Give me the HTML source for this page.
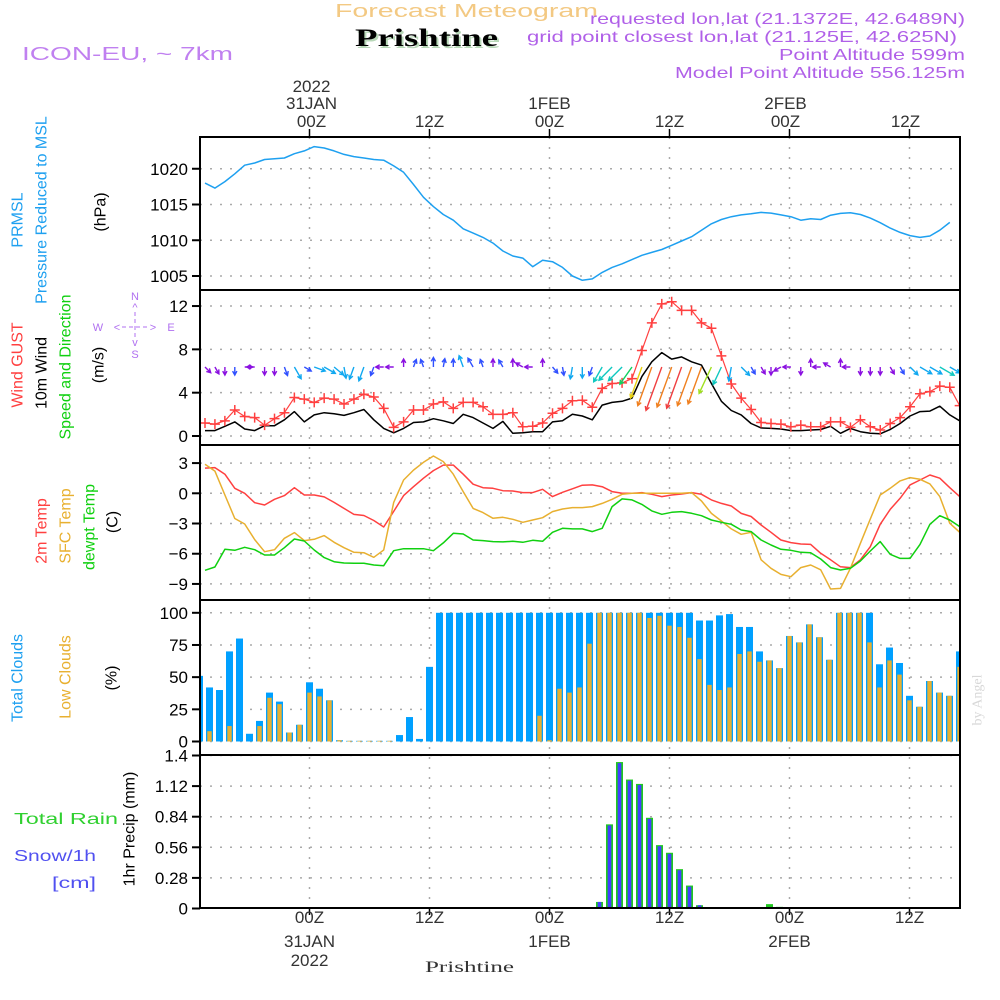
<!DOCTYPE html>
<html><head><meta charset="utf-8"><title>Prishtine Meteogram</title>
<style>
html,body{margin:0;padding:0;background:#fff;}
svg{display:block;font-family:"Liberation Sans",sans-serif;}
</style></head>
<body>
<svg id="chart" width="1000" height="1000" viewBox="0 0 1000 1000" xmlns="http://www.w3.org/2000/svg">
<rect x="0" y="0" width="1000" height="1000" fill="#fff"/>
<g id="header">
  <text x="335" y="17" font-size="18" fill="#f3c983" textLength="263" lengthAdjust="spacingAndGlyphs">Forecast Meteogram</text>
  <text x="357" y="48" font-size="25" font-weight="bold" font-family="Liberation Serif, serif" fill="#b8d8b8" textLength="143" lengthAdjust="spacingAndGlyphs">Prishtine</text>
  <text x="355" y="46" font-size="25" font-weight="bold" font-family="Liberation Serif, serif" fill="#000" textLength="143" lengthAdjust="spacingAndGlyphs">Prishtine</text>
  <text x="22" y="60" font-size="18" fill="#c080f0" textLength="211" lengthAdjust="spacingAndGlyphs">ICON-EU, ~ 7km</text>
  <text x="590" y="24" font-size="16" fill="#b060e8" textLength="375" lengthAdjust="spacingAndGlyphs">requested lon,lat (21.1372E, 42.6489N)</text>
  <text x="527" y="42" font-size="16" fill="#b060e8" textLength="430" lengthAdjust="spacingAndGlyphs">grid point closest lon,lat (21.125E, 42.625N)</text>
  <text x="779" y="60" font-size="16" fill="#b060e8" textLength="186" lengthAdjust="spacingAndGlyphs">Point Altitude 599m</text>
  <text x="675" y="78" font-size="16" fill="#b060e8" textLength="290" lengthAdjust="spacingAndGlyphs">Model Point Altitude 556.125m</text>
</g>
<g id="grid"></g>
<g id="marks"></g>
<g id="axes"></g>
<g id="labels">
  <text transform="translate(18,220) rotate(-90)" text-anchor="middle" dominant-baseline="central" font-size="16" fill="#1ea0f0">PRMSL</text>
  <text transform="translate(42,210) rotate(-90)" text-anchor="middle" dominant-baseline="central" font-size="16" fill="#1ea0f0">Pressure Reduced to MSL</text>
  <text transform="translate(101,212) rotate(-90)" text-anchor="middle" dominant-baseline="central" font-size="16" fill="#000">(hPa)</text>
  <text transform="translate(18,365) rotate(-90)" text-anchor="middle" dominant-baseline="central" font-size="16" fill="#ff4040">Wind GUST</text>
  <text transform="translate(42,373) rotate(-90)" text-anchor="middle" dominant-baseline="central" font-size="16" fill="#000">10m Wind</text>
  <text transform="translate(66,367) rotate(-90)" text-anchor="middle" dominant-baseline="central" font-size="16" fill="#10d010">Speed and Direction</text>
  <text transform="translate(99,365) rotate(-90)" text-anchor="middle" dominant-baseline="central" font-size="16" fill="#000">(m/s)</text>
  <g fill="#b070f0" stroke="none" font-size="11" text-anchor="middle">
    <text x="135" y="300">N</text>
    <text x="135" y="311">^</text>
    <text x="98" y="331">W</text>
    <text x="117" y="331">&lt;</text>
    <text x="153" y="331">&gt;</text>
    <text x="171" y="331">E</text>
    <text x="135" y="346">v</text>
    <text x="135" y="358">S</text>
    <line x1="135" y1="312" x2="135" y2="340" stroke="#b070f0" stroke-dasharray="4,3"/>
    <line x1="122" y1="327" x2="148" y2="327" stroke="#b070f0" stroke-dasharray="4,3"/>
  </g>
  <text transform="translate(42,531) rotate(-90)" text-anchor="middle" dominant-baseline="central" font-size="16" fill="#ff4040">2m Temp</text>
  <text transform="translate(66,526) rotate(-90)" text-anchor="middle" dominant-baseline="central" font-size="16" fill="#e8b030">SFC Temp</text>
  <text transform="translate(90,527) rotate(-90)" text-anchor="middle" dominant-baseline="central" font-size="16" fill="#10d010">dewpt Temp</text>
  <text transform="translate(113,522) rotate(-90)" text-anchor="middle" dominant-baseline="central" font-size="16" fill="#000">(C)</text>
  <text transform="translate(18,678) rotate(-90)" text-anchor="middle" dominant-baseline="central" font-size="16" fill="#1ea0f0">Total Clouds</text>
  <text transform="translate(66,677) rotate(-90)" text-anchor="middle" dominant-baseline="central" font-size="16" fill="#e8b030">Low Clouds</text>
  <text transform="translate(112,678) rotate(-90)" text-anchor="middle" dominant-baseline="central" font-size="16" fill="#000">(%)</text>
  <text x="14" y="824" font-size="16" fill="#30d030" textLength="104" lengthAdjust="spacingAndGlyphs">Total   Rain</text>
  <text x="14" y="861" font-size="16" fill="#5050f0" textLength="82" lengthAdjust="spacingAndGlyphs">Snow/1h</text>
  <text x="52" y="888" font-size="16" fill="#5050f0" textLength="44" lengthAdjust="spacingAndGlyphs">[cm]</text>
  <text transform="translate(130,829) rotate(-90)" text-anchor="middle" dominant-baseline="central" font-size="16" fill="#000">1hr Precip (mm)</text>
  <text transform="translate(978,700) rotate(-90)" text-anchor="middle" dominant-baseline="central" font-size="14" font-family="Liberation Serif, serif" fill="#d8d8d8">by Angel</text>
  <text x="425" y="972" font-size="16" font-family="Liberation Serif, serif" fill="#333" textLength="89" lengthAdjust="spacingAndGlyphs">Prishtine</text>
</g>
<script>
// ---------- DATA ----------
const timeTopLabels = ["00Z","12Z","00Z","12Z","00Z","12Z"];
const timeDayLabels = ["31JAN","","1FEB","","2FEB",""];
const timeTickHours = [11,23,35,47,59,71];
const pressureTicks = [1005,1010,1015,1020];
const windTicks = [0,4,8,12];
const tempTicks = [-9,-6,-3,0,3];
const cloudTicks = [0,25,50,75,100];
const precipTicks = [0,0.28,0.56,0.84,1.12,1.4];
const precipTickLabels = ["0","0.28","0.56","0.84","1.12","1.4"];

const pressure = [1018.0,1017.3,1018.2,1019.3,1020.5,1020.8,1021.3,1021.4,1021.5,1022.1,1022.5,1023.1,1022.9,1022.5,1022.0,1021.7,1021.5,1021.3,1021.2,1020.4,1019.5,1017.8,1016.0,1014.7,1013.6,1012.8,1011.6,1011.0,1010.4,1009.6,1008.5,1007.8,1007.5,1006.3,1007.2,1007.0,1006.2,1005.0,1004.4,1004.6,1005.5,1006.2,1006.7,1007.3,1007.9,1008.3,1008.7,1009.3,1009.9,1010.5,1011.4,1012.3,1012.9,1013.3,1013.55,1013.7,1013.9,1013.8,1013.55,1013.3,1012.8,1013.0,1012.9,1013.5,1013.75,1013.85,1013.6,1013.1,1012.45,1011.7,1011.1,1010.65,1010.4,1010.6,1011.4,1012.5];

const gust = [1.2,1.1,1.4,2.4,1.8,1.7,1.0,1.6,2.15,3.55,3.4,3.1,3.5,3.4,2.95,3.4,3.85,3.6,2.55,0.8,1.3,2.4,2.4,2.95,3.15,2.55,3.1,3.1,2.7,2.0,2.0,2.15,0.85,0.9,1.2,2.1,2.55,3.25,3.3,2.65,4.4,4.85,4.9,5.3,7.9,10.45,12.2,12.4,11.6,11.6,10.45,9.95,7.4,4.8,3.5,2.45,1.25,1.15,1.1,0.85,1.0,0.85,0.85,1.3,1.3,0.8,1.5,0.85,0.55,1.15,1.7,2.7,3.9,4.1,4.6,4.5,2.8];

const wind10 = [0.5,0.5,0.9,1.3,0.65,0.5,0.95,0.95,1.5,2.25,1.3,1.95,2.15,2.05,1.9,2.15,2.45,1.5,0.7,0.3,0.7,1.25,1.3,1.6,1.4,1.15,2.0,1.7,1.2,0.7,1.35,0.25,0.3,0.4,0.4,1.3,1.4,2.0,1.85,1.5,2.85,3.1,3.2,3.5,5.5,6.85,7.7,7.1,7.3,6.85,6.55,4.85,3.2,2.35,1.95,1.15,0.75,0.7,0.65,0.5,0.5,0.55,0.6,0.9,0.25,0.7,0.4,0.25,0.2,0.6,1.15,1.85,2.25,2.3,2.75,1.95,1.4];

const windDir = [135,150,180,180,90,270,180,180,160,150,120,110,120,130,170,200,200,200,270,270,0,20,340,0,10,0,340,330,340,0,330,0,300,270,0,140,170,190,180,200,210,225,225,215,200,200,200,200,200,200,200,205,205,190,135,150,150,180,240,270,180,0,270,300,0,270,180,180,180,150,150,135,120,120,120,120,120];

const temp2m = [2.5,2.55,1.9,0.5,0,-0.93,-1.16,-0.6,-0.23,0.56,-0.17,-0.17,-0.36,-0.9,-1.5,-2.1,-2.2,-2.7,-3.35,-1.8,-0.23,0.66,1.5,2.25,2.8,2.8,1.9,0.9,0.56,0.5,0.26,0.23,0.07,0.07,0.4,-0.33,0.1,0.45,0.8,0.83,0.66,0.17,0,0,0.07,-0.1,-0.33,-0.17,-0.07,0.07,-0.1,-0.66,-1.0,-1.26,-2.0,-2.3,-3.15,-3.87,-4.64,-4.9,-5.03,-5.07,-5.96,-6.6,-7.3,-7.38,-6.6,-5.3,-3.08,-1.6,-0.5,0.83,1.32,1.82,1.5,0.56,-0.33];

const tempSfc = [2.88,2.2,-0.17,-2.5,-3.05,-4.6,-5.8,-5.6,-4.47,-3.9,-4.7,-4.57,-4.2,-4.87,-5.4,-5.86,-5.9,-6.36,-5.63,-0.9,1.32,2.3,3.08,3.7,3.15,1.9,0.17,-1.5,-1.92,-2.48,-2.38,-2.58,-2.88,-2.65,-2.42,-1.82,-1.56,-1.42,-1.42,-1.32,-1.0,-0.6,-0.1,0,0,0,0,0,0,0.07,-0.76,-2.0,-2.75,-3.54,-4.07,-3.87,-6.6,-7.45,-8.05,-8.28,-7.38,-7.12,-7.6,-9.5,-9.44,-7.45,-4.97,-2.55,-0.17,0.5,1.23,1.56,1.39,0.93,-0.33,-2.98,-3.87];

const dewpt = [-7.65,-7.32,-5.56,-5.66,-5.36,-5.6,-6.13,-6.13,-5.4,-4.54,-4.74,-5.63,-6.39,-6.79,-6.92,-6.95,-6.95,-7.12,-7.19,-5.7,-5.5,-5.5,-5.5,-5.7,-4.93,-3.97,-4.04,-4.64,-4.7,-4.8,-4.83,-4.77,-4.87,-4.67,-4.77,-3.87,-3.48,-3.54,-3.54,-3.8,-3.48,-1.32,-0.56,-0.66,-1.1,-1.75,-2.09,-1.89,-1.82,-1.99,-2.22,-2.65,-2.88,-3.08,-3.64,-3.8,-4.64,-5.13,-5.56,-5.66,-5.86,-5.9,-6.52,-7.38,-7.62,-7.45,-6.72,-5.73,-4.8,-6.06,-6.46,-6.46,-5.07,-3.08,-2.22,-2.65,-3.31];

const cloudTotal = [51,42,40,70,80,6,16,38,31,7,13,46,41,32,1,0.5,0.5,0.5,0.5,0.5,5,19,2,58,100,100,100,100,100,100,100,100,100,100,100,100,100,100,100,100,100,100,100,100,100,100,100,100,100,100,94,94,98,99,89,89,70,63,57,82,77,91,81,63.5,100,100,100,100,60,73,61,35.5,27,47,38,35.5,70];

const cloudLow = [0,8,0,12,0,0,12,34,29,7,13,38,35,32,1,0.5,0.5,0.5,0.5,0.5,0,0,0,0,0,0,0,0,0,0,0,0,0,0,20,1,41,38,42,76,100,100,100,100,100,96,97.7,90,89,80.6,64,44,40,42,68,70,62,63,57,82,77,91,81,63.5,100,100,100,77,42,63,52,32,27,47,38,35.5,58];

const rain = [0,0,0,0,0,0,0,0,0,0,0,0,0,0,0,0,0,0,0,0,0,0,0,0,0,0,0,0,0,0,0,0,0,0,0,0,0,0,0,0,0.06,0.77,1.34,1.18,1.14,0.83,0.58,0.51,0.36,0.21,0.03,0,0,0,0,0,0,0.04,0.015,0,0,0,0,0,0,0,0,0,0,0,0,0,0,0,0,0,0];

const snow = [0,0,0,0,0,0,0,0,0,0,0,0,0,0,0,0,0,0,0,0,0,0,0,0,0,0,0,0,0,0,0,0,0,0,0,0,0,0,0,0,0.06,0.76,1.33,1.17,1.13,0.82,0.57,0.5,0.35,0.2,0.03,0,0,0,0,0,0,0,0,0,0,0,0,0,0,0,0,0,0,0,0,0,0,0,0,0,0];

// ---------- SCALES ----------
const PX0 = 200, PX1 = 960;
const panels = {
  p:{top:137,bot:290}, w:{top:290,bot:445}, t:{top:445,bot:600}, c:{top:600,bot:755}, r:{top:755,bot:908}
};
function xBar(i){ return 199.5 + 10*i; }
function xLine(j){ return 205 + 9.93*j; }
function yP(v){ return 276 - (v-1005)*7.15; }
function yW(v){ return 436 - v*10.83; }
function yT(v){ return 493.3 - v*10.07; }
function yC(v){ return 741.5 - v*1.287; }
function yR(v){ return 908.5 - v*(153/1.4); }

const NS = "http://www.w3.org/2000/svg";
function mk(tag, attrs, parent){
  const e = document.createElementNS(NS, tag);
  for (const k in attrs) e.setAttribute(k, attrs[k]);
  parent.appendChild(e);
  return e;
}
const svg = document.getElementById('chart');
const gGrid = document.getElementById('grid');
const gMarks = document.getElementById('marks');
const gAxes = document.getElementById('axes');

const clip = mk('clipPath',{id:'plotclip'},svg);
mk('rect',{x:PX0,y:137,width:PX1-PX0,height:771},clip);
gMarks.setAttribute('clip-path','url(#plotclip)');

// ---------- GRID ----------
function hgrid(y){
  const l = mk('line',{x1:PX0,x2:PX1,y1:y,y2:y,stroke:'#aaa','stroke-width':1.5,'stroke-dasharray':'2,8'},gGrid);
  
  
}
function ytick(y,label,fs){
  const l = mk('line',{x1:192,x2:200,y1:y,y2:y,stroke:'#000','stroke-width':2},gAxes);
  
  
  const t = mk('text',{x:188,y:y+6,'text-anchor':'end','font-size':fs||17,fill:'#000'},gAxes);
  t.textContent = label;
  
  
}
pressureTicks.forEach(v=>{ hgrid(yP(v)); ytick(yP(v), String(v)); });
windTicks.forEach(v=>{ hgrid(yW(v)); ytick(yW(v), String(v)); });
tempTicks.forEach(v=>{ hgrid(yT(v)); ytick(yT(v), String(v).replace('-','\u2212')); });
cloudTicks.forEach(v=>{ hgrid(yC(v)); ytick(yC(v), String(v)); });
precipTicks.forEach((v,k)=>{ if(k>0) hgrid(yR(v)); ytick(yR(v), precipTickLabels[k]); });

timeTickHours.forEach((h,k)=>{
  const x = xBar(h);
  const v = mk('line',{x1:x,x2:x,y1:137,y2:908,stroke:'#aaa','stroke-width':1.5,'stroke-dasharray':'2,8'},gGrid);
  
  
  const tk = mk('line',{x1:x,x2:x,y1:129,y2:137,stroke:'#000','stroke-width':1.5},gAxes);
  
  
  const tb = mk('line',{x1:x,x2:x,y1:908,y2:915,stroke:'#000','stroke-width':1.5},gAxes);
  
  
  const tx = x + (k>=4 ? -4 : (k===0?2:0));
  const t1 = mk('text',{x:tx,y:127,'text-anchor':'middle','font-size':17,fill:'#333'},gAxes);
  t1.textContent = timeTopLabels[k];
  
  
  if (timeDayLabels[k]) {
    const t2 = mk('text',{x:tx,y:109,'text-anchor':'middle','font-size':17,fill:'#333'},gAxes);
    t2.textContent = timeDayLabels[k];
    
    
  }
  const b1 = mk('text',{x:x,y:923,'text-anchor':'middle','font-size':17,fill:'#333'},gAxes);
  b1.textContent = timeTopLabels[k];
  
  
  if (timeDayLabels[k]) {
    const b2 = mk('text',{x:x,y:947,'text-anchor':'middle','font-size':17,fill:'#333'},gAxes);
    b2.textContent = timeDayLabels[k];
    
    
  }
});
const y1 = mk('text',{x:xBar(11)+2,y:92,'text-anchor':'middle','font-size':17,fill:'#333'},gAxes);
y1.textContent = '2022';


const y2 = mk('text',{x:xBar(11),y:966,'text-anchor':'middle','font-size':17,fill:'#333'},gAxes);
y2.textContent = '2022';



// ---------- MARKS ----------
function poly(arr, yf, color, name, w){
  const pts = arr.map((v,j)=> xLine(j).toFixed(1)+','+yf(v).toFixed(1)).join(' ');
  const p = mk('polyline',{points:pts,fill:'none',stroke:color,'stroke-width':w||1.5,'stroke-linejoin':'round'},gMarks);
  
  
  return p;
}
poly(pressure, yP, '#1ea0f0', 'pressure-line');

cloudTotal.forEach((v,i)=>{
  const x = xBar(i);
  const r = mk('rect',{x:x-3.5,y:yC(v),width:7,height:Math.max(0,yC(0)-yC(v)),fill:'#00a0ff'},gMarks);
  
  
});
cloudLow.forEach((v,i)=>{
  const x = xBar(i);
  const r = mk('rect',{x:x-2.2,y:yC(v),width:4.4,height:Math.max(0,yC(0)-yC(v)),fill:'#e8b030'},gMarks);
  
  
});

rain.forEach((v,i)=>{
  if (v<=0) return;
  const x = xBar(i);
  const r = mk('rect',{x:x-3.5,y:yR(v),width:7,height:yR(0)-yR(v),fill:'#20c820'},gMarks);
  
  
});
snow.forEach((v,i)=>{
  if (v<=0) return;
  const x = xBar(i);
  const r = mk('rect',{x:x-1.8,y:yR(v),width:3.6,height:yR(0)-yR(v),fill:'#4040ff'},gMarks);
  
  
});
const zl = mk('line',{x1:PX0,x2:PX1,y1:yR(0)-0.5,y2:yR(0)-0.5,stroke:'#333','stroke-width':1.5,'stroke-dasharray':'6,3'},gMarks);



poly(temp2m, yT, '#ff4040', 'temp-2m-line');
poly(tempSfc, yT, '#e8b030', 'temp-sfc-line');
poly(dewpt, yT, '#10d010', 'dewpoint-line');

poly(wind10, yW, '#000', 'wind-10m-line');
poly(gust, yW, '#ff4040', 'gust-line', 1.2);
gust.forEach((v,j)=>{
  const x = xLine(j), y = yW(v);
  const m = mk('path',{d:`M${x-5},${y}H${x+5}M${x},${y-5}V${y+5}`,stroke:'#ff4040','stroke-width':1.5,fill:'none'},gMarks);
  
  
});
function windColor(s){
  if (s<1) return '#8a10e0';
  if (s<1.8) return '#3050ff';
  if (s<2.6) return '#10a8f0';
  if (s<3.3) return '#10c8c0';
  if (s<4.5) return '#10d060';
  if (s<5.2) return '#a0e020';
  if (s<6) return '#e8d010';
  if (s<7.2) return '#f08020';
  return '#f04040';
}
windDir.forEach((d,j)=>{
  const s = wind10[j];
  const L = Math.max(8, 6*s);
  const a = d*Math.PI/180;
  const x0 = xLine(j), y0 = 367;
  const x1 = x0 + L*Math.sin(a), y1b = y0 - L*Math.cos(a);
  const h = 4.5;
  const a1 = a + Math.PI - 0.5, a2 = a + Math.PI + 0.5;
  const hx1 = x1 + h*Math.sin(a1), hy1 = y1b - h*Math.cos(a1);
  const hx2 = x1 + h*Math.sin(a2), hy2 = y1b - h*Math.cos(a2);
  const c = windColor(s);
  const p = mk('path',{d:`M${x0.toFixed(1)},${y0}L${x1.toFixed(1)},${y1b.toFixed(1)}M${hx1.toFixed(1)},${hy1.toFixed(1)}L${x1.toFixed(1)},${y1b.toFixed(1)}L${hx2.toFixed(1)},${hy2.toFixed(1)}`,stroke:c,'stroke-width':1.4,fill:'none'},gMarks);
  
  
});

Object.keys(panels).forEach(k=>{
  const p = panels[k];
  const r = mk('rect',{x:PX0,y:p.top,width:PX1-PX0,height:p.bot-p.top,fill:'none',stroke:'#000','stroke-width':2},gAxes);
  
  
});
</script>
</svg>
</body></html>
